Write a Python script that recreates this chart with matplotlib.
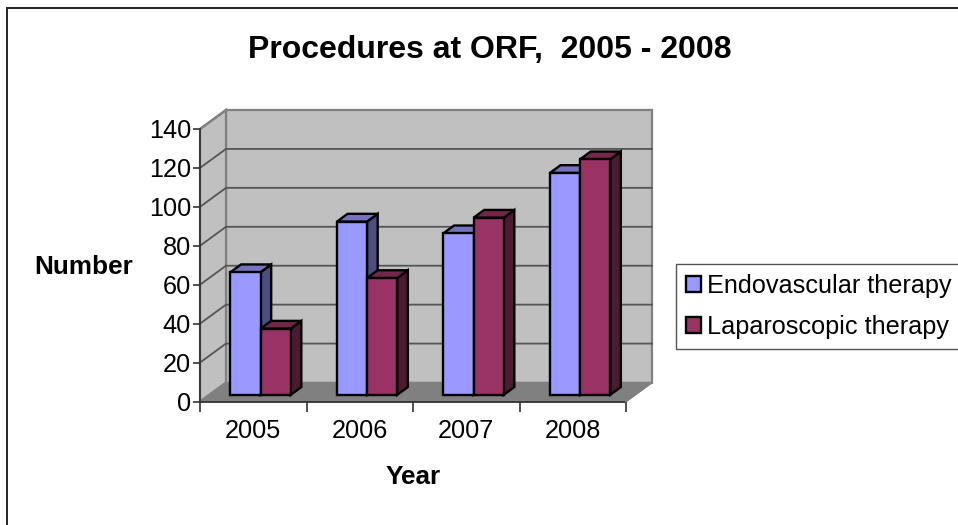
"""Procedures at ORF: fake-3D clustered columns in the old Excel look."""

import matplotlib
matplotlib.use("Agg")
import matplotlib.pyplot as plt
from matplotlib.patches import Patch, Polygon, Rectangle

plt.rcParams["font.family"] = ["Liberation Sans", "DejaVu Sans"]

W, H = 958, 525

years = ["2005", "2006", "2007", "2008"]
endovascular = [63, 89, 83, 114]
laparoscopic = [34, 60, 91, 121]
series_names = ["Endovascular therapy", "Laparoscopic therapy"]
y_ticks = [0, 20, 40, 60, 80, 100, 120, 140]

COLORS = ["#9999FF", "#993366"]
TOPS = ["#7373BF", "#732649"]
SIDES = ["#4D4D80", "#4D1A33"]
WALL = "#C0C0C0"
FLOOR = "#808080"
GRID = "#555555"

# front plane of the box in pixels
X0, X1 = 200.0, 626.0
Y0, Y1 = 401.5, 129.0
# how far the back wall is shifted from the front plane
DEPTH_PX = (26.0, -19.0)

BAR_W = 0.283
GROUP_START = 0.2
BAR_FRONT = 0.35  # depth where the bars start
BAR_DEPTH = 0.41

fig = plt.figure(figsize=(W / 100, H / 100), dpi=100, facecolor="white")
ax = fig.add_axes([X0 / W, 1 - Y0 / H, (X1 - X0) / W, (Y0 - Y1) / H])
ax.set_xlim(0, len(years))
ax.set_ylim(0, y_ticks[-1])
ax.axis("off")

sx = (X1 - X0) / len(years)
sy = (Y0 - Y1) / y_ticks[-1]


def shift(x, y, d):
    """Move a data point d of the way towards the back wall."""
    return x + d * DEPTH_PX[0] / sx, y - d * DEPTH_PX[1] / sy


def quad(points, **kw):
    kw.setdefault("clip_on", False)
    ax.add_patch(Polygon(points, closed=True, **kw))


nx, ny = len(years), y_ticks[-1]

# walls and floor
quad([shift(0, 0, 1), shift(nx, 0, 1), shift(nx, ny, 1), shift(0, ny, 1)],
     fc=WALL, ec=FLOOR, lw=1.6, zorder=1)
quad([(0, 0), shift(0, 0, 1), shift(0, ny, 1), (0, ny)],
     fc=WALL, ec=FLOOR, lw=1.6, zorder=1)
quad([(0, 0), (nx, 0), shift(nx, 0, 1), shift(0, 0, 1)],
     fc=FLOOR, ec=FLOOR, lw=1, zorder=1)

# gridlines run along the left wall then the back wall
for v in y_ticks[1:-1]:
    bx, by = shift(0, v, 1)
    ex, ey = shift(nx, v, 1)
    ax.plot([0, bx, ex], [v, by, ey], color=GRID, lw=1.3, zorder=2, clip_on=False)
ax.plot([0, shift(0, ny, 1)[0]], [ny, shift(0, ny, 1)[1]], color=FLOOR, lw=1.6, zorder=2, clip_on=False)

# front axis lines
ax.plot([0, 0, nx], [ny, 0, 0], color="#333333", lw=1.3, zorder=3, clip_on=False)
ax.plot([nx, shift(nx, 0, 1)[0]], [0, shift(nx, 0, 1)[1]], color=FLOOR, lw=1.2, zorder=3, clip_on=False)

# columns, back to front, series by series inside each year
z = 4
for i, year in enumerate(years):
    for j, vals in enumerate([endovascular, laparoscopic]):
        left = i + GROUP_START + j * BAR_W
        right = left + BAR_W
        val = vals[i]
        fx0, fy0 = shift(left, 0, BAR_FRONT)
        fx1, fy1 = shift(right, val, BAR_FRONT)
        bx1, by1 = shift(right, val, BAR_FRONT + BAR_DEPTH)
        bx0, _ = shift(left, val, BAR_FRONT + BAR_DEPTH)
        _, by0 = shift(right, 0, BAR_FRONT + BAR_DEPTH)
        edge = dict(ec="black", lw=1.7, joinstyle="miter")
        quad([(fx1, fy0), (bx1, by0), (bx1, by1), (fx1, fy1)], fc=SIDES[j], zorder=z, **edge)
        quad([(fx0, fy1), (fx1, fy1), (bx1, by1), (bx0, by1)], fc=TOPS[j], zorder=z, **edge)
        ax.bar(fx0, fy1 - fy0, width=fx1 - fx0, bottom=fy0, align="edge", color=COLORS[j],
               zorder=z + 1, clip_on=False, **edge)
        z += 2

# ticks and labels
ax.set_axis_on()
for s in ax.spines.values():
    s.set_visible(False)
ax.patch.set_visible(False)
ax.set_yticks(y_ticks)
ax.set_xticks(range(nx + 1))
ax.set_xticklabels([])
ax.tick_params(axis="y", length=5, width=1.2, color="#333333", labelsize=18.2, pad=1.5)
ax.tick_params(axis="x", length=7, width=1.2, color="#333333", pad=2)
for i, year in enumerate(years):
    ax.annotate(year, xy=(i + 0.5, 0), xycoords="data", xytext=(0, -30), textcoords="offset pixels",
                ha="center", va="center", fontsize=18.2)

fig.text(489.5 / W, 1 - 50 / H, "Procedures at ORF,  2005 - 2008", ha="center", va="center",
         fontsize=23, fontweight="bold")
fig.text(83.5 / W, 1 - 267.5 / H, "Number", ha="center", va="center", fontsize=18.8, fontweight="bold")
fig.text(413 / W, 1 - 476.5 / H, "Year", ha="center", va="center", fontsize=18.8, fontweight="bold")

# outer chart frame, runs past the right and bottom edge of the crop
fig.add_artist(Rectangle((7 / W, -5 / H), (W + 20) / W, (H - 3) / H, transform=fig.transFigure,
                         fc="none", ec="#222222", lw=1.4))

handles = [Patch(fc=c, ec="black", lw=1.7) for c in COLORS]
fig.legend(handles, series_names, loc="upper left", bbox_to_anchor=(676 / W, 1 - 264 / H),
           fontsize=18.2, frameon=True, fancybox=False, framealpha=1, edgecolor="#555555",
           handlelength=0.6, handleheight=0.6, handletextpad=0.25, labelspacing=0.7,
           borderpad=0.38, borderaxespad=0)

fig.savefig("out.png", dpi=100)
